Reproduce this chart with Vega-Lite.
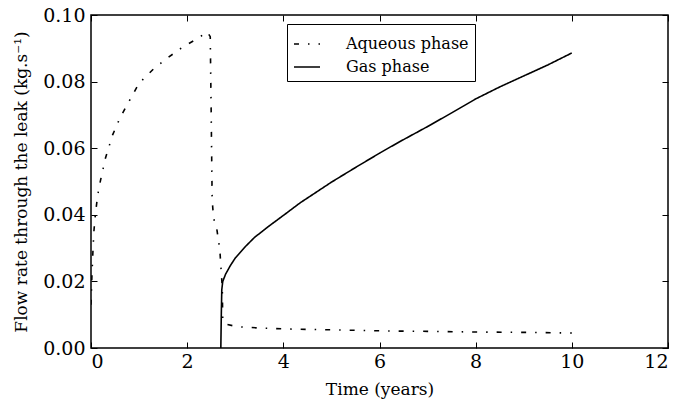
{
  "$schema": "https://vega.github.io/schema/vega-lite/v6.json",
  "width": 577,
  "height": 333,
  "autosize": "none",
  "padding": {"left": 91, "top": 15, "right": 12, "bottom": 53},
  "background": "white",
  "config": {
    "view": {"stroke": "black", "strokeWidth": 1.5},
    "font": "DejaVu Serif",
    "axis": {
      "domain": false,
      "grid": false,
      "tickColor": "black",
      "tickSize": -6,
      "tickWidth": 1,
      "labelFont": "DejaVu Serif",
      "labelFontSize": 19,
      "labelColor": "black",
      "titleFont": "DejaVu Serif",
      "titleFontWeight": "normal",
      "titleColor": "black"
    }
  },
  "data": {
    "values": [
      {"i": 1, "series": "Aqueous phase", "t": 0.0, "v": 0.013},
      {"i": 2, "series": "Aqueous phase", "t": 0.02, "v": 0.022},
      {"i": 3, "series": "Aqueous phase", "t": 0.04, "v": 0.029},
      {"i": 4, "series": "Aqueous phase", "t": 0.06, "v": 0.035},
      {"i": 5, "series": "Aqueous phase", "t": 0.09, "v": 0.040},
      {"i": 6, "series": "Aqueous phase", "t": 0.14, "v": 0.046},
      {"i": 7, "series": "Aqueous phase", "t": 0.2, "v": 0.0505},
      {"i": 8, "series": "Aqueous phase", "t": 0.3, "v": 0.057},
      {"i": 9, "series": "Aqueous phase", "t": 0.45, "v": 0.064},
      {"i": 10, "series": "Aqueous phase", "t": 0.6, "v": 0.069},
      {"i": 11, "series": "Aqueous phase", "t": 0.75, "v": 0.073},
      {"i": 12, "series": "Aqueous phase", "t": 1.0, "v": 0.0795},
      {"i": 13, "series": "Aqueous phase", "t": 1.3, "v": 0.0838},
      {"i": 14, "series": "Aqueous phase", "t": 1.6, "v": 0.0872},
      {"i": 15, "series": "Aqueous phase", "t": 1.9, "v": 0.0903},
      {"i": 16, "series": "Aqueous phase", "t": 2.2, "v": 0.0928},
      {"i": 17, "series": "Aqueous phase", "t": 2.42, "v": 0.0949},
      {"i": 18, "series": "Aqueous phase", "t": 2.48, "v": 0.0935},
      {"i": 19, "series": "Aqueous phase", "t": 2.5, "v": 0.070},
      {"i": 20, "series": "Aqueous phase", "t": 2.52, "v": 0.0444},
      {"i": 21, "series": "Aqueous phase", "t": 2.55, "v": 0.039},
      {"i": 22, "series": "Aqueous phase", "t": 2.62, "v": 0.0354},
      {"i": 23, "series": "Aqueous phase", "t": 2.68, "v": 0.0294},
      {"i": 24, "series": "Aqueous phase", "t": 2.71, "v": 0.0225},
      {"i": 25, "series": "Aqueous phase", "t": 2.73, "v": 0.0183},
      {"i": 26, "series": "Aqueous phase", "t": 2.74, "v": 0.0084},
      {"i": 27, "series": "Aqueous phase", "t": 2.79, "v": 0.0072},
      {"i": 28, "series": "Aqueous phase", "t": 3.04, "v": 0.0064},
      {"i": 29, "series": "Aqueous phase", "t": 3.5, "v": 0.006},
      {"i": 30, "series": "Aqueous phase", "t": 4.1, "v": 0.0057},
      {"i": 31, "series": "Aqueous phase", "t": 5.2, "v": 0.0054},
      {"i": 32, "series": "Aqueous phase", "t": 6.2, "v": 0.0051},
      {"i": 33, "series": "Aqueous phase", "t": 7.0, "v": 0.005},
      {"i": 34, "series": "Aqueous phase", "t": 8.0, "v": 0.0048},
      {"i": 35, "series": "Aqueous phase", "t": 9.0, "v": 0.0047},
      {"i": 36, "series": "Aqueous phase", "t": 10.0, "v": 0.0045},
      {"i": 1, "series": "Gas phase", "t": 2.70, "v": 0.0},
      {"i": 2, "series": "Gas phase", "t": 2.71, "v": 0.010},
      {"i": 3, "series": "Gas phase", "t": 2.72, "v": 0.0175},
      {"i": 4, "series": "Gas phase", "t": 2.74, "v": 0.020},
      {"i": 5, "series": "Gas phase", "t": 2.8, "v": 0.0222},
      {"i": 6, "series": "Gas phase", "t": 2.9, "v": 0.0248},
      {"i": 7, "series": "Gas phase", "t": 3.0, "v": 0.027},
      {"i": 8, "series": "Gas phase", "t": 3.2, "v": 0.0303},
      {"i": 9, "series": "Gas phase", "t": 3.4, "v": 0.0332},
      {"i": 10, "series": "Gas phase", "t": 3.7, "v": 0.0366},
      {"i": 11, "series": "Gas phase", "t": 4.0, "v": 0.0398},
      {"i": 12, "series": "Gas phase", "t": 4.35, "v": 0.0436},
      {"i": 13, "series": "Gas phase", "t": 5.0, "v": 0.0498},
      {"i": 14, "series": "Gas phase", "t": 5.5, "v": 0.0542},
      {"i": 15, "series": "Gas phase", "t": 6.0, "v": 0.0585},
      {"i": 16, "series": "Gas phase", "t": 6.4, "v": 0.0618},
      {"i": 17, "series": "Gas phase", "t": 7.0, "v": 0.0665},
      {"i": 18, "series": "Gas phase", "t": 7.5, "v": 0.0706},
      {"i": 19, "series": "Gas phase", "t": 8.0, "v": 0.0748},
      {"i": 20, "series": "Gas phase", "t": 8.5, "v": 0.0784},
      {"i": 21, "series": "Gas phase", "t": 9.0, "v": 0.0817},
      {"i": 22, "series": "Gas phase", "t": 9.5, "v": 0.085},
      {"i": 23, "series": "Gas phase", "t": 10.0, "v": 0.0886}
    ]
  },
  "layer": [
    {
      "mark": {"type": "line", "color": "black", "strokeWidth": 1.6, "clip": true},
      "encoding": {
        "x": {
          "field": "t", "type": "quantitative",
          "scale": {"domain": [0, 12], "nice": false, "zero": false},
          "axis": {"orient": "bottom", "values": [0, 2, 4, 6, 8, 10, 12], "format": "d", "labelPadding": 10, "title": "Time (years)", "titleFontSize": 17, "titlePadding": 10}
        },
        "y": {
          "field": "v", "type": "quantitative",
          "scale": {"domain": [0, 0.1], "nice": false},
          "axis": {"orient": "left", "values": [0, 0.02, 0.04, 0.06, 0.08, 0.1], "format": ".2f", "labelPadding": 12, "title": "Flow rate through the leak (kg.s⁻¹)", "titleFontSize": 17, "titlePadding": 12}
        },
        "detail": {"field": "series"},
        "order": {"field": "i", "type": "quantitative"},
        "strokeDash": {
          "field": "series", "type": "nominal",
          "scale": {"domain": ["Aqueous phase", "Gas phase"], "range": [[5, 9, 1.5, 9], [1, 0]]},
          "legend": {
            "title": null,
            "orient": "none",
            "legendX": 196,
            "legendY": 9,
            "fillColor": "white",
            "strokeColor": "black",
            "padding": 6,
            "symbolType": "stroke",
            "symbolSize": 676,
            "symbolStrokeWidth": 1.6,
            "symbolStrokeColor": "black",
            "labelFont": "DejaVu Serif",
            "labelFontSize": 16,
            "labelColor": "black",
            "labelOffset": 25,
            "rowPadding": 1
          }
        }
      }
    },
    {
      "mark": {"type": "line", "opacity": 0},
      "encoding": {
        "x": {
          "field": "t", "type": "quantitative",
          "scale": {"domain": [0, 12], "nice": false, "zero": false},
          "axis": {"orient": "top", "values": [0, 2, 4, 6, 8, 10, 12], "labels": false, "title": null}
        },
        "y": {
          "field": "v", "type": "quantitative",
          "scale": {"domain": [0, 0.1], "nice": false},
          "axis": {"orient": "right", "values": [0, 0.02, 0.04, 0.06, 0.08, 0.1], "labels": false, "title": null}
        },
        "detail": {"field": "series"}
      }
    }
  ],
  "resolve": {"axis": {"x": "independent", "y": "independent"}}
}
